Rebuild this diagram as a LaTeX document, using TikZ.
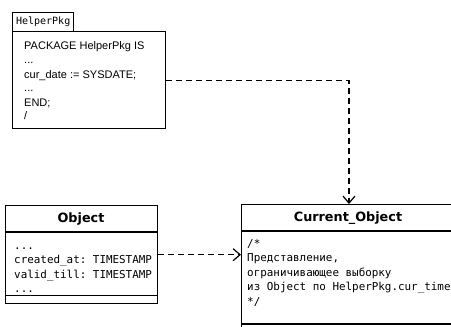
\documentclass[tikz,border=0pt]{standalone}
\usepackage{fontspec}
\setmainfont{Liberation Sans}
\setmonofont{DejaVu Sans Mono}
\newfontfamily\titlefont{DejaVu Sans}
\usetikzlibrary{arrows.meta}
\begin{document}
\begin{tikzpicture}[x=1pt,y=-1pt,
  box/.style={draw, line width=1.4pt, inner sep=0pt, anchor=north west},
  dep/.style={line width=1.4pt, dash pattern=on 6pt off 4pt, -{Straight Barb[length=7pt,width=12pt,line width=1.2pt]}},
  pkgtext/.style={anchor=base west, inner sep=0pt, font=\fontsize{11}{13}\selectfont},
  monotext/.style={anchor=base west, inner sep=0pt, font=\fontsize{10.9}{13}\ttfamily},
  title/.style={inner sep=0pt, font=\fontsize{12.8}{15}\titlefont\bfseries},
  tabtext/.style={inner sep=0pt, font=\fontsize{10}{12}\ttfamily}]
\clip (0,0) rectangle (451,327);
\fill[white] (0,0) rectangle (451,327);
% package
\node[box, minimum width=61pt, minimum height=19pt] (tab) at (12,12) {};
\node[tabtext] (tabl) at (tab.center) {HelperPkg};
\node[box, minimum width=153pt, minimum height=97pt] (pkg) at (12,31) {};
\node[pkgtext] (p1) at (24,49.5) {PACKAGE HelperPkg IS};
\node[pkgtext] (p2) at (24,63) {...};
\node[pkgtext] (p3) at (24,78) {cur\_date := SYSDATE;};
\node[pkgtext] (p4) at (24,91) {...};
\node[pkgtext] (p5) at (24,106) {END;};
\node[pkgtext] (p6) at (24,119.5) {/};
% Object
\node[box, minimum width=152pt, minimum height=98pt] (obj) at (5,205) {};
\draw[line width=1.4pt] (5,232) -- (157,232);
\draw[line width=1.4pt] (5,295.5) -- (157,295.5);
\node[title] (objt) at (81,219) {Object};
\node[monotext] (o1) at (14,249) {...};
\node[monotext] (o2) at (14,263.5) {created\_at: TIMESTAMP};
\node[monotext] (o3) at (14,278) {valid\_till: TIMESTAMP};
\node[monotext] (o4) at (14,292.5) {...};
% Current_Object
\node[box, minimum width=230pt, minimum height=150pt] (cur) at (241,204) {};
\draw[line width=1.4pt] (241,231) -- (471,231);
\draw[line width=1.4pt] (241,324) -- (471,324);
\node[title] (curt) at (348,218) {Current\_Object};
\node[monotext] (c1) at (247,247) {/*};
\node[monotext] (c2) at (247,261.5) {Представление,};
\node[monotext] (c3) at (247,276) {ограничивающее выборку};
\node[monotext] (c4) at (247,290.5) {из Object по HelperPkg.cur\_time};
\node[monotext] (c5) at (247,305) {*/};
% connectors
\coordinate (ctop) at (349,204);
\draw[dep] (pkg.east) -| (ctop);
\draw[dep] (obj.east) -- (cur.west |- obj.east);
\end{tikzpicture}
\end{document}
